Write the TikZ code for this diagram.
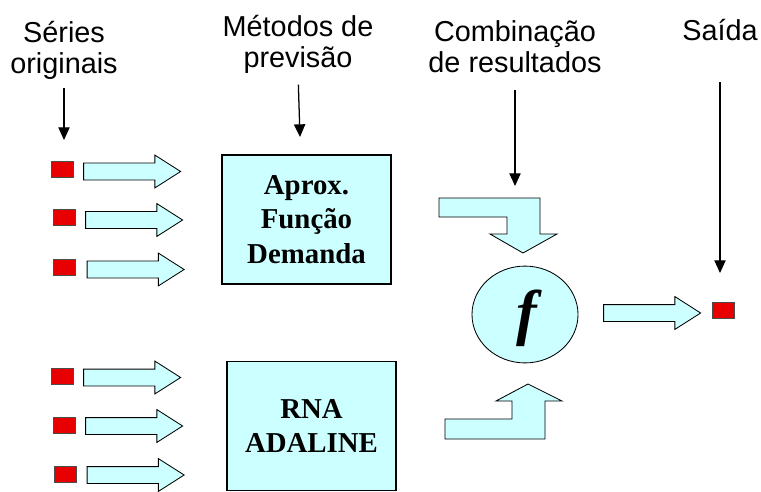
\documentclass[tikz,border=0pt]{standalone}
\usepackage{fontspec}
\setmainfont{Liberation Serif}
\setsansfont{Liberation Sans}
\usetikzlibrary{shapes.arrows,shapes.geometric,arrows.meta}
\definecolor{lightcyan}{HTML}{CCFFFF}
\definecolor{dotred}{HTML}{E80000}

\tikzset{
    captiontext/.style={font=\sffamily\fontsize{20.5}{22}\selectfont, align=center, inner sep=0pt},
    pointer/.style={-{Triangle[width=8pt,length=9pt]}, line width=0.9pt},
    seriesdot/.style={draw=black!70, line width=0.4pt, fill=dotred, minimum width=0.55cm, minimum height=0.4cm, inner sep=0pt},
    blockarrow/.style={single arrow, draw, fill=lightcyan, line width=0.6pt, inner xsep=0pt, inner ysep=0.2cm,
        minimum height=2.425cm, single arrow head extend=0.2cm, single arrow tip angle=65},
    methodbox/.style={draw, fill=lightcyan, line width=0.8pt, minimum width=4.225cm, minimum height=3.225cm,
        align=center, font=\bfseries\fontsize{20.5}{24.5}\selectfont},
    bentarrow/.style={draw, fill=lightcyan, line width=0.6pt, line join=miter},
}

\begin{document}
\begin{tikzpicture}[x=0.025cm, y=-0.025cm]
    \useasboundingbox (0,0) rectangle (761,492);
    % Column captions
    \node[captiontext] (series) at (64,50) {Séries\\originais};
    \node[captiontext] (methods) at (298,44) {Métodos de\\previsão};
    \node[captiontext] (combo) at (515,47) {Combinação\\de resultados};
    \node[captiontext, anchor=base] (output) at (720,41) {Saída};
    \coordinate (seriesTip) at (64,140);
    \coordinate (methodsTip) at (300,137);
    \coordinate (comboTip) at (515,186);
    \coordinate (outputTip) at (720,273);
    \draw[pointer, shorten <=6pt] (series.south) -- (seriesTip);
    \draw[pointer, shorten <=8pt] (methods.south) -- (methodsTip);
    \draw[pointer, shorten <=12pt] (combo.south) -- (comboTip);
    \draw[pointer, shorten <=29pt] (output.south) -- (outputTip);
    % Input series and their arrows
    \node[seriesdot] (s1) at (62,169.5) {};
    \node[seriesdot] (s2) at (64.5,217.5) {};
    \node[seriesdot] (s3) at (64.5,267.5) {};
    \node[seriesdot] (s4) at (62,376) {};
    \node[seriesdot] (s5) at (64.5,425) {};
    \node[seriesdot] (s6) at (65,474.5) {};
    \node[blockarrow] (a1) at (125.5,171.5) {};
    \node[blockarrow] (a2) at (127.5,220) {};
    \node[blockarrow] (a3) at (129,269.5) {};
    \node[blockarrow] (a4) at (125.5,377.5) {};
    \node[blockarrow] (a5) at (127.5,426) {};
    \node[blockarrow] (a6) at (129,475) {};
    % Forecasting methods
    \node[methodbox] (aprox) at (306.5,219.5) {Aprox.\\Função\\Demanda};
    \node[methodbox] (rna) at (311.5,426) {RNA\\ADALINE};
    % Combination
    \node[ellipse, draw, fill=lightcyan, line width=0.6pt, minimum width=2.65cm, minimum height=2.42cm, inner sep=0pt]
        (comb) at (525,314.5) {};
    \node[font=\bfseries\itshape\fontsize{44}{44}\selectfont, inner sep=0pt] (f) at (527,318) {f};
    \draw[bentarrow] (439,198) -- (540,198) -- (540,234) -- (557,234) -- (523,253)
        -- (490,234) -- (507,234) -- (507,217) -- (439,217) -- cycle; % From upper method
    \draw[bentarrow] (445,439) -- (445,419) -- (512,419) -- (512,401) -- (496,401) -- (528,384)
        -- (562,401) -- (545,401) -- (545,439) -- cycle; % From lower method
    % Output
    \node[blockarrow] (aout) at (645.5,313) {};
    \node[seriesdot] (out) at (723,310) {};
\end{tikzpicture}
\end{document}
